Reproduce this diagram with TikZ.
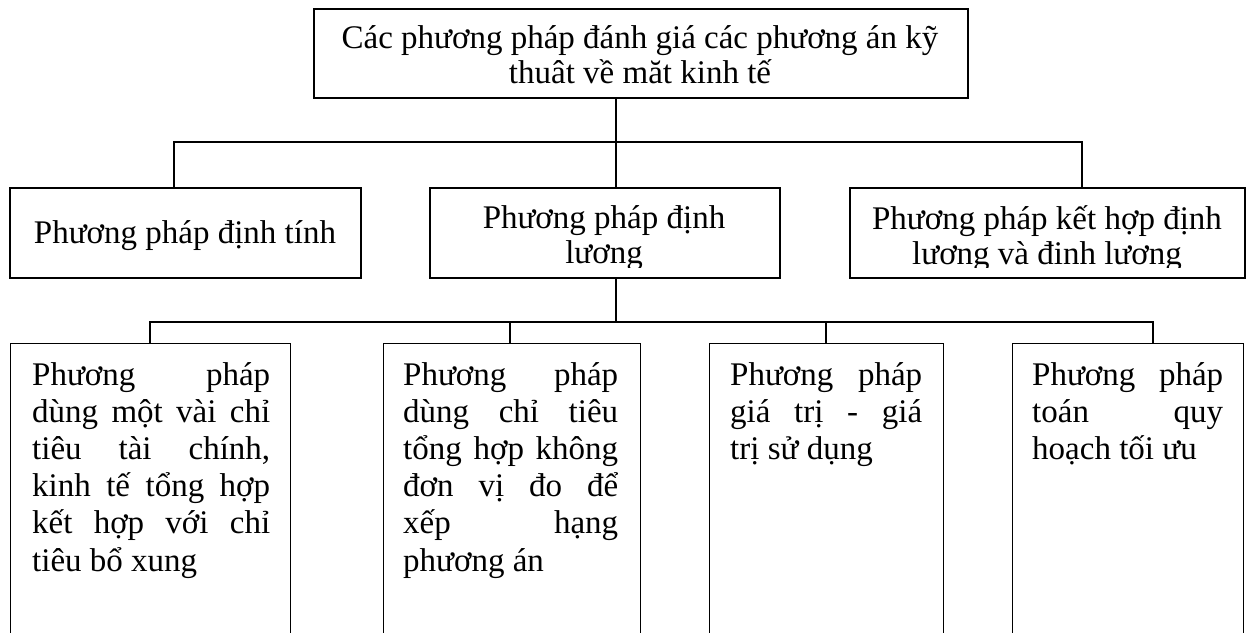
\documentclass[tikz,border=0pt]{standalone}
\usepackage{fontspec}
\setmainfont{Liberation Serif}
\newcommand\boxfont{\fontsize{33}{35}\selectfont
  \lineskiplimit=-100pt\relax\tolerance=10000\relax\hyphenpenalty=10000\relax}
\newcommand\leaffont{\fontsize{33}{37.2}\selectfont
  \lineskiplimit=-100pt\relax\tolerance=10000\relax\hyphenpenalty=10000\relax}
\begin{document}
\begin{tikzpicture}[x=1pt, y=-1pt,
  frame/.style={draw, line width=1.8pt, inner sep=0pt, anchor=north west},
  leaf/.style={draw, line width=1.4pt, inner sep=0pt, anchor=north west},
  link/.style={line width=1.6pt},
  txt/.style={inner sep=0pt, font=\boxfont},
]
\useasboundingbox (0,0) rectangle (1246,632);
\clip (0,0) rectangle (1246,632);
\fill[white] (0,0) rectangle (1246,632);

% root
\node[frame, minimum width=654pt, minimum height=89pt] (top) at (313,8) {};
\node[txt, anchor=base] (ttop) at (640,48)
  {\parbox[t]{640pt}{\boxfont\centering Các phương pháp đánh giá các phương án kỹ\\ thuât về măt kinh tế}};

% second level
\node[frame, minimum width=351pt, minimum height=90pt] (m1) at (9,187) {};
\node[frame, minimum width=350pt, minimum height=90pt] (m2) at (429,187) {};
\node[frame, minimum width=395pt, minimum height=90pt] (m3) at (849,187) {};
\node[txt, anchor=base] (tm1) at (185,243) {Phương pháp định tính};
\begin{scope}
  \clip (429,187) rectangle (1246,267);
  \node[txt, anchor=base] (tm2) at (604,228)
    {\parbox[t]{340pt}{\boxfont\centering Phương pháp định\\ lương}};
  \node[txt, anchor=base] (tm3) at (1047,229)
    {\parbox[t]{390pt}{\boxfont\centering Phương pháp kết hợp định\\ lương và đinh lương}};
\end{scope}

% third level (boxes run past the lower edge)
\node[leaf, minimum width=280pt, minimum height=320pt] (b1) at (10,343) {};
\node[leaf, minimum width=257pt, minimum height=320pt] (b2) at (383,343) {};
\node[leaf, minimum width=234pt, minimum height=320pt] (b3) at (709,343) {};
\node[leaf, minimum width=231pt, minimum height=320pt] (b4) at (1012,343) {};

\node[txt, anchor=base west] (tb1) at (32,385) {\parbox[t]{238pt}{\leaffont Phương pháp\linebreak
  dùng một vài chỉ\linebreak tiêu tài chính,\linebreak kinh tế tổng hợp\linebreak
  kết hợp với chỉ\linebreak tiêu bổ xung}};
\node[txt, anchor=base west] (tb2) at (403,385) {\parbox[t]{215pt}{\leaffont Phương pháp\linebreak
  dùng chỉ tiêu\linebreak tổng hợp không\linebreak đơn vị đo để\linebreak
  xếp hạng\linebreak phương án}};
\node[txt, anchor=base west] (tb3) at (730,385) {\parbox[t]{192pt}{\leaffont Phương pháp\linebreak
  giá trị - giá\linebreak trị sử dụng}};
\node[txt, anchor=base west] (tb4) at (1032,385) {\parbox[t]{191pt}{\leaffont Phương pháp\linebreak
  toán quy\linebreak hoạch tối ưu}};

% connectors
\coordinate (c1) at (174,142);
\coordinate (c2) at (616,142);
\coordinate (c3) at (1082,142);
\draw[link] (top.south -| c2) -- (m2.north -| c2);
\draw[link] (m1.north -| c1) -- (c1) -- (c3) -- (m3.north -| c3);

\coordinate (d0) at (616,322);
\coordinate (d1) at (150,322);
\coordinate (d2) at (510,322);
\coordinate (d3) at (826,322);
\coordinate (d4) at (1153,322);
\draw[link] (m2.south -| d0) -- (d0);
\draw[link] (b1.north -| d1) -- (d1) -- (d4) -- (b4.north -| d4);
\draw[link] (d2) -- (b2.north -| d2);
\draw[link] (d3) -- (b3.north -| d3);
\end{tikzpicture}
\end{document}
